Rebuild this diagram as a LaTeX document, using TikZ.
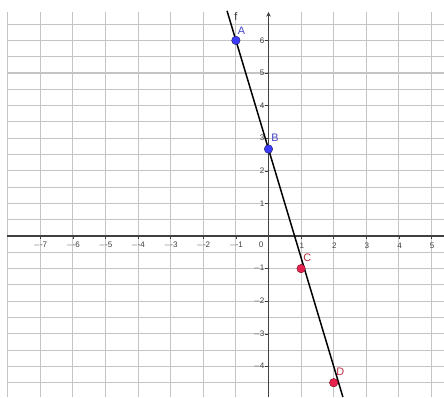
\documentclass[tikz,border=0pt]{standalone}
\usepackage{fontspec}
\setmainfont{Liberation Sans}
\usetikzlibrary{arrows.meta}
\definecolor{gridc}{HTML}{C4C4C4}
\definecolor{axisc}{HTML}{404040}
\definecolor{bluept}{HTML}{3C3CFF}
\definecolor{bluedk}{HTML}{20206A}
\definecolor{bluelab}{HTML}{4444C4}
\definecolor{redpt}{HTML}{E8224E}
\definecolor{reddk}{HTML}{7A1020}
\definecolor{redlab}{HTML}{B83040}
\tikzset{
  gridline/.style={gridc, line width=1pt},
  axisline/.style={axisc, line width=0.9pt},
  ticklab/.style={font=\fontsize{7}{8}\selectfont, text=axisc, inner sep=0pt},
  ptblue/.style={circle, fill=bluept, draw=bluedk, line width=0.4pt, minimum size=0.26cm, inner sep=0pt},
  ptred/.style={circle, fill=redpt, draw=reddk, line width=0.4pt, minimum size=0.26cm, inner sep=0pt},
  lab/.style={font=\fontsize{9.5}{10}\selectfont, inner sep=0pt},
  graphline/.style={black, line width=1.3pt},
}
\begin{document}
\begin{tikzpicture}[x=1cm,y=1cm]
\useasboundingbox[fill=white] (-8.236,-4.939) rectangle (5.383,7.239);
% grid
\foreach \x in {-8,...,5} \draw[gridline] (\x,-4.939) -- (\x,6.87);
\foreach \y in {-4.5,-4,...,6.5} \draw[gridline] (-8.02,\y) -- (5.383,\y);
% axes
\draw[axisline] (-8.02,0) -- (5.383,0);
\draw[axisline, -{Stealth[length=4pt,width=4pt]}] (0,-4.939) -- (0,6.87);
% ticks and labels
\foreach \x in {-7,...,-1} {
  \draw[axisc, line width=0.5pt] (\x,0) -- (\x,-0.1);
  \node[ticklab] at (\x,-0.29) {$-$\kern-0.5pt\x};
}
\foreach \x in {1,...,5} {
  \draw[axisc, line width=0.5pt] (\x,0) -- (\x,-0.1);
  \node[ticklab] at (\x+0.02,-0.29) {\x};
}
\foreach \y in {1,...,6} {
  \draw[axisc, line width=0.5pt] (0,\y) -- (-0.1,\y);
  \node[ticklab, anchor=east] at (-0.12,\y) {\y};
}
\foreach \y in {-4,...,-1} {
  \draw[axisc, line width=0.5pt] (0,\y) -- (-0.1,\y);
  \pgfmathtruncatemacro{\ay}{-\y}
  \node[ticklab, anchor=east] at (-0.12,\y) {$-$\kern-0.5pt\ay};
}
\node[ticklab] (zero) at (-0.23,-0.28) {0};
% line f: y = -10/3 x + 8/3
\coordinate (ftop) at (-1.272,6.907);
\coordinate (fbot) at (2.282,-4.939);
\draw[graphline] (ftop) -- (fbot);
\node[lab, text=black!80] (flab) at (-1.0,6.72) {f};
% points
\node[ptblue] (A) at (-1,6) {};
\node[ptblue] (B) at (0,2.667) {};
\node[ptred] (C) at (1,-1) {};
\node[ptred] (D) at (2,-4.5) {};
\node[lab, text=bluelab] (Alab) at (-0.83,6.3) {A};
\node[lab, text=bluelab] (Blab) at (0.2,3.0) {B};
\node[lab, text=redlab] (Clab) at (1.19,-0.66) {C};
\node[lab, text=redlab] (Dlab) at (2.2,-4.15) {D};
\end{tikzpicture}
\end{document}
